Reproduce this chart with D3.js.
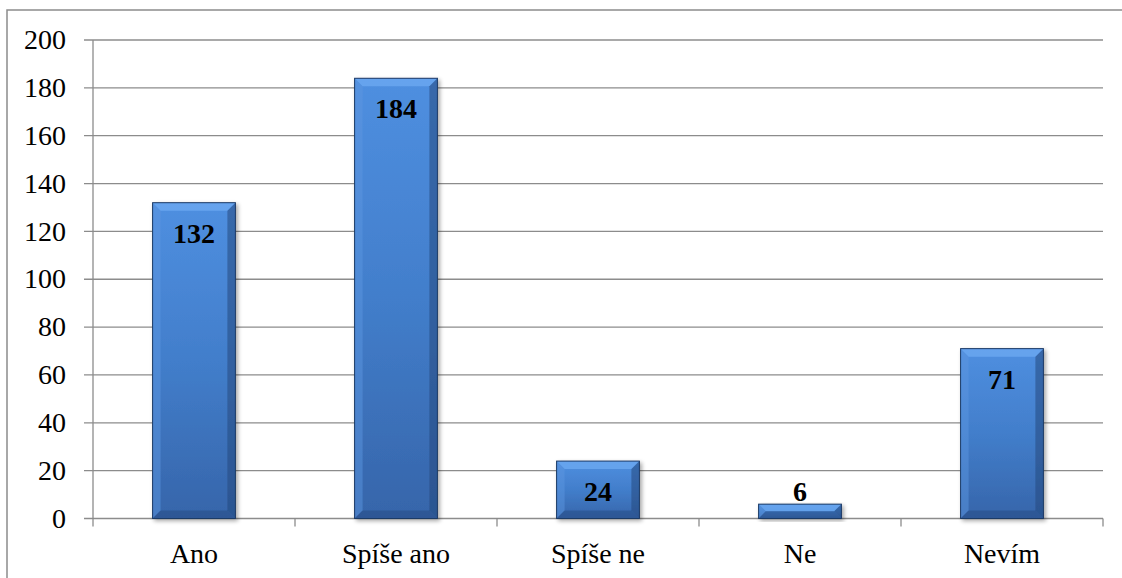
<!DOCTYPE html>
<html><head><meta charset="utf-8">
<script src="https://cdn.jsdelivr.net/npm/d3@7"></script>
</head><body style="margin:0;background:#fff">
<svg id="chart" width="1122" height="578" style="display:block"></svg>
<script>
const categories = ["Ano", "Spíše ano", "Spíše ne", "Ne", "Nevím"];
const values = [132, 184, 24, 6, 71];
const yTicks = [0, 20, 40, 60, 80, 100, 120, 140, 160, 180, 200];

const svg = d3.select("#chart");
const W = 1122, H = 578;
const plot = {left: 93, right: 1103, top: 40, bottom: 518.5};
const FONT = "Liberation Serif";

// outer border
svg.append("rect").attr("x", 7).attr("y", 10).attr("width", W + 10).attr("height", H + 10)
  .attr("fill", "none").attr("stroke", "#8c8c8c").attr("stroke-width", 1.5);

const x = d3.scaleBand().domain(categories).range([plot.left, plot.right]).paddingInner(0.59).paddingOuter(0.295);
const y = d3.scaleLinear().domain([0, 200]).range([plot.bottom, plot.top]);

const defs = svg.append("defs");
const g1 = defs.append("linearGradient").attr("id", "barGrad").attr("x1", 0).attr("y1", 0).attr("x2", 0).attr("y2", 1);
g1.append("stop").attr("offset", "0%").attr("stop-color", "#4f8fe0");
g1.append("stop").attr("offset", "50%").attr("stop-color", "#427ecb");
g1.append("stop").attr("offset", "100%").attr("stop-color", "#3665aa");
const sh = defs.append("filter").attr("id", "shadow").attr("x", "-20%").attr("y", "-20%").attr("width", "140%").attr("height", "140%");
sh.append("feGaussianBlur").attr("in", "SourceAlpha").attr("stdDeviation", 2);
sh.append("feOffset").attr("dx", 1.5).attr("dy", 1.5).attr("result", "ob");
sh.append("feComponentTransfer").append("feFuncA").attr("type", "linear").attr("slope", 0.35);
const m = sh.append("feMerge"); m.append("feMergeNode"); m.append("feMergeNode").attr("in", "SourceGraphic");

// gridlines + y ticks
const grid = svg.append("g");
yTicks.forEach(t => {
  grid.append("line").attr("x1", plot.left - 9).attr("x2", plot.right)
    .attr("y1", y(t)).attr("y2", y(t)).attr("stroke", "#8c8c8c").attr("stroke-width", 1.3);
  svg.append("text").attr("x", 66).attr("y", y(t)).attr("dy", "0.33em")
    .attr("text-anchor", "end").attr("font-family", FONT).attr("font-size", 28).attr("fill", "#000").text(t);
});
// y axis line
svg.append("line").attr("x1", plot.left).attr("x2", plot.left).attr("y1", plot.top).attr("y2", plot.bottom)
  .attr("stroke", "#8c8c8c").attr("stroke-width", 1.3);
// x category ticks
const edges = categories.map(c => x(c) - x.step() * x.paddingInner() / 2);
edges.push(plot.right);
edges[0] = plot.left;
edges.forEach(e => {
  svg.append("line").attr("x1", e).attr("x2", e).attr("y1", plot.bottom).attr("y2", plot.bottom + 8)
    .attr("stroke", "#8c8c8c").attr("stroke-width", 1.3);
});

// bars
const bars = svg.append("g");
categories.forEach((c, i) => {
  const v = values[i];
  const x0 = x(c), x1 = x(c) + x.bandwidth(), y0 = y(v), y1 = y(0);
  const b = Math.min(8, (y1 - y0) / 2);
  const g = bars.append("g").attr("filter", "url(#shadow)");
  g.append("rect").attr("x", x0).attr("y", y0).attr("width", x1 - x0).attr("height", y1 - y0)
    .attr("fill", "url(#barGrad)");
  g.append("polygon").attr("points", [[x0,y0],[x1,y0],[x1-b,y0+b],[x0+b,y0+b]].join(" ")).attr("fill", "#6aa7f0").attr("opacity", 0.85);
  g.append("polygon").attr("points", [[x0,y0],[x0+b,y0+b],[x0+b,y1-b],[x0,y1]].join(" ")).attr("fill", "#5b95df").attr("opacity", 0.5);
  g.append("polygon").attr("points", [[x1,y0],[x1-b,y0+b],[x1-b,y1-b],[x1,y1]].join(" ")).attr("fill", "#24487d").attr("opacity", 0.55);
  g.append("polygon").attr("points", [[x0,y1],[x0+b,y1-b],[x1-b,y1-b],[x1,y1]].join(" ")).attr("fill", "#24487d").attr("opacity", 0.45);
  g.append("rect").attr("x", x0).attr("y", y0).attr("width", x1 - x0).attr("height", y1 - y0)
    .attr("fill", "none").attr("stroke", "#1d3a66").attr("stroke-width", 1);
});

// bar labels
categories.forEach((c, i) => {
  const v = values[i];
  const cx = x(c) + x.bandwidth() / 2;
  const h = y(0) - y(v);
  const ly = h > 35 ? y(v) + 40 : y(v) - 3;
  svg.append("text").attr("x", cx).attr("y", ly).attr("text-anchor", "middle")
    .attr("font-family", FONT).attr("font-weight", "bold").attr("font-size", 28).attr("fill", "#000").text(v);
});

// x labels
categories.forEach(c => {
  svg.append("text").attr("x", x(c) + x.bandwidth() / 2).attr("y", 563).attr("text-anchor", "middle")
    .attr("font-family", FONT).attr("font-size", 28).attr("fill", "#000").text(c);
});
</script>
</body></html>
